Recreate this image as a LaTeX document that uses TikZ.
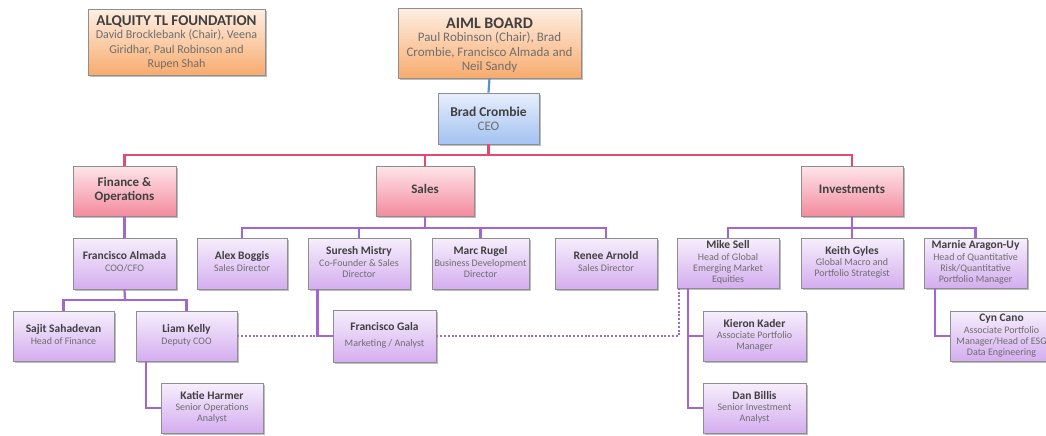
\documentclass[tikz,border=0pt]{standalone}
\usepackage{fontspec}
\setmainfont{Carlito}
\definecolor{orTop}{HTML}{FEEEE2}
\definecolor{orBot}{HTML}{F8AA6C}
\definecolor{blTop}{HTML}{E6EEFC}
\definecolor{blBot}{HTML}{A2C1F2}
\definecolor{pkTop}{HTML}{FEE4E9}
\definecolor{pkBot}{HTML}{F38A9D}
\definecolor{puTop}{HTML}{F6EEFC}
\definecolor{puBot}{HTML}{D4ADF0}
\definecolor{bordc}{HTML}{8E8E8E}
\definecolor{namec}{HTML}{404040}
\definecolor{subc}{HTML}{6E6E6E}
\definecolor{redl}{HTML}{E6486E}
\definecolor{purl}{HTML}{A366CC}
\definecolor{blul}{HTML}{5A8ED6}
\definecolor{shadc}{HTML}{BDBDBD}
\newcommand{\twol}[4]{\begin{tabular}{@{}c@{}}{#1\bfseries\color{namec}#2}\\{#3\color{subc}\begin{tabular}{@{}c@{}}#4\end{tabular}}\end{tabular}}
\newcommand{\pn}[2]{\twol{\fontsize{11.5}{12.5}\selectfont}{#1}{\fontsize{10}{11}\selectfont}{#2}}
\newcommand{\dn}[1]{{\fontsize{13}{14}\selectfont\bfseries\color{namec}\begin{tabular}{@{}c@{}}#1\end{tabular}}}
% #1 name, #2 cx, #3 cy, #4 w, #5 h, #6 top colour, #7 bottom colour, #8 text
\newcommand{\gb}[8]{%
  \fill[shadc] (#2-#4/2+1.8, #3-#5/2+1.8) rectangle (#2+#4/2+1.8, #3+#5/2+1.8);
  \foreach \i in {0,...,24}{%
    \pgfmathsetmacro\pc{\i*4}%
    \fill[#7!\pc!#6] (#2-#4/2, #3-#5/2+\i*#5/25) rectangle (#2+#4/2, #3-#5/2+\i*#5/25+#5/25+0.3);
  }%
  \node[box, minimum width=#4pt, minimum height=#5pt] (#1) at (#2,#3) {#8};
}
\begin{document}
\begin{tikzpicture}[x=1pt,y=-1pt,
  box/.style={draw=bordc, line width=0.8pt, inner sep=0pt},
  rline/.style={draw=redl, line width=2.2pt},
  pline/.style={draw=purl, line width=2.2pt},
  dline/.style={draw=purl, line width=2.2pt, dash pattern=on 2pt off 1.8pt},
]
\useasboundingbox (0,0) rectangle (1046,436);

% coordinates of buses
\coordinate (rbus) at (488.5,155);
\coordinate (sbus) at (425,228);
\coordinate (ibus) at (852,228);
\coordinate (abus) at (125,300);

% top boxes
\gb{alq}{176.5}{42}{177}{66}{orTop}{orBot}{\twol{\fontsize{15}{14}\selectfont}{\rule{0pt}{13pt}ALQUITY TL FOUNDATION}{\fontsize{12}{14.3}\selectfont}{David Brocklebank (Chair), Veena\\Giridhar, Paul Robinson and\\Rupen Shah}}
\gb{aiml}{489.5}{43}{183}{70}{orTop}{orBot}{\twol{\fontsize{16}{16}\selectfont}{\rule{0pt}{17pt}AIML BOARD}{\fontsize{13}{14.3}\selectfont}{Paul Robinson (Chair), Brad\\Crombie, Francisco Almada and\\Neil Sandy}}
\gb{ceo}{488.5}{118.5}{101}{51}{blTop}{blBot}{\twol{\fontsize{13.5}{17}\selectfont}{\rule{0pt}{15pt}Brad Crombie}{\fontsize{13}{15}\selectfont}{CEO}}

% departments
\gb{fin}{124.5}{191}{103}{50}{pkTop}{pkBot}{\dn{Finance \&\\Operations}}
\gb{sales}{425}{191}{98}{50}{pkTop}{pkBot}{\dn{Sales}}
\gb{inv}{852}{191}{102}{50}{pkTop}{pkBot}{\dn{Investments}}

% level 2
\gb{almada}{124.5}{263.5}{103}{51}{puTop}{puBot}{\pn{Francisco Almada}{COO/CFO}}
\gb{alex}{242}{263.5}{90}{51}{puTop}{puBot}{\pn{Alex Boggis}{Sales Director}}
\gb{suresh}{359}{263.5}{102}{51}{puTop}{puBot}{\pn{Suresh Mistry}{Co-Founder \& Sales\\Director}}
\gb{marc}{480.5}{263.5}{97}{51}{puTop}{puBot}{\pn{Marc Rugel}{Business Development\\Director}}
\gb{renee}{606}{263.5}{102}{51}{puTop}{puBot}{\pn{Renee Arnold}{Sales Director}}
\gb{mike}{728}{263}{102}{50}{puTop}{puBot}{\pn{Mike Sell}{Head of Global\\Emerging Market\\Equities}}
\gb{keith}{852}{263}{102}{50}{puTop}{puBot}{\pn{Keith Gyles}{Global Macro and\\Portfolio Strategist}}
\gb{marnie}{975.5}{263}{103}{50}{puTop}{puBot}{\pn{Marnie Aragon-Uy}{Head of Quantitative\\Risk/Quantitative\\Portfolio Manager}}

% level 3
\gb{sajit}{63.5}{336}{101}{50}{puTop}{puBot}{\pn{Sajit Sahadevan}{Head of Finance}}
\gb{liam}{186.5}{336}{101}{50}{puTop}{puBot}{\pn{Liam Kelly}{Deputy COO}}
\gb{katie}{212}{408}{102}{50}{puTop}{puBot}{\pn{Katie Harmer}{Senior Operations\\Analyst}}
\gb{gala}{384.5}{336}{103}{52}{puTop}{puBot}{\twol{\fontsize{11.5}{12.5}\selectfont}{Francisco Gala}{\fontsize{10}{11}\selectfont}{\rule{0pt}{13pt}Marketing / Analyst}}
\gb{kieron}{754.5}{336}{103}{50}{puTop}{puBot}{\pn{Kieron Kader}{Associate Portfolio\\Manager}}
\gb{dan}{754.5}{408}{103}{50}{puTop}{puBot}{\pn{Dan Billis}{Senior Investment\\Analyst}}
\gb{cyn}{1001.5}{336}{103}{50}{puTop}{puBot}{\pn{Cyn Cano}{Associate Portfolio\\Manager/Head of ESG\\Data Engineering}}

% connectors
\draw[draw=blul, line width=2.2pt] (aiml.south) -- (ceo.north);
\path[rline] (ceo.south) -- (rbus);
\path[rline] (fin.north) |- (rbus) -| (inv.north);
\path[rline] (sales.north) -- (sales.north |- rbus);

\path[pline] (fin.south) -- (almada.north);
\path[pline] (sales.south) -- (sbus);
\path[pline] (alex.north) |- (sbus) -| (renee.north);
\path[pline] (suresh.north) -- (suresh.north |- sbus);
\path[pline] (marc.north) -- (marc.north |- sbus);
\path[pline] (inv.south) -- (ibus);
\path[pline] (mike.north) |- (ibus) -| (marnie.north);
\path[pline] (keith.north) -- (keith.north |- ibus);

\path[pline] (almada.south) -- (abus);
\path[pline] (sajit.north) |- (abus) -| (liam.north);
\path[pline] ([xshift=-40.5pt]liam.south) |- (katie.west);
\path[pline] ([xshift=-41.5pt]suresh.south) |- (gala.west);
\path[pline] ([xshift=-40pt]mike.south) |- (kieron.west);
\path[pline] ([xshift=-40pt]mike.south) |- (dan.west);
\path[pline] ([xshift=-40.5pt]marnie.south) |- (cyn.west);

% dotted links
\path[dline] (liam.east) -- (gala.west);
\path[dline] (gala.east) -| ([xshift=-49pt]mike.south);
\end{tikzpicture}
\end{document}
